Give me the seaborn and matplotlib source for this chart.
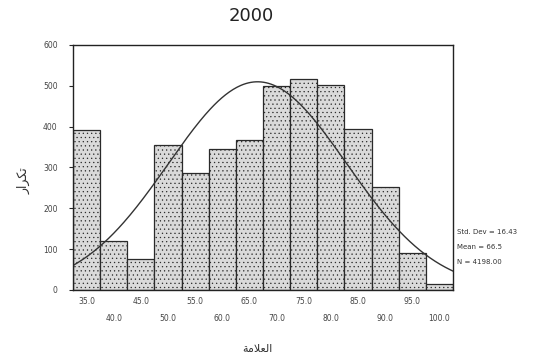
import numpy as np
import matplotlib
matplotlib.use("Agg")
import matplotlib.pyplot as plt
import seaborn as sns

# ---- data ----
bin_centers = [35, 40, 45, 50, 55, 60, 65, 70, 75, 80, 85, 90, 95, 100]
counts = [392, 120, 75, 356, 286, 344, 366, 500, 516, 502, 394, 252, 90, 15]
x_tick_labels = ["35.0", "40.0", "45.0", "50.0", "55.0", "60.0", "65.0",
                 "70.0", "75.0", "80.0", "85.0", "90.0", "95.0", "100.0"]
y_ticks = [0, 100, 200, 300, 400, 500, 600]
std_dev = 16.43
mean_val = 66.5
n_total = 4198.00
bin_width = 5
title = "2000"
# Arabic text in pre-shaped presentation forms, visual order
x_label = "\uFE94\uFEE3\uFEFC\uFECC\uFEDF\uFE8D"   # العلامة
y_label = "\uFEAD\uFE8D\uFEAE\uFEDC\uFE97"         # تكرار

sns.set_style("white")
plt.rcParams['font.family'] = ['DejaVu Sans']
plt.rcParams['hatch.color'] = "#a0a0a0"
plt.rcParams['hatch.linewidth'] = 0.4

fig = plt.figure(figsize=(5.39, 3.62), dpi=100)
ax = fig.add_axes([0.1354, 0.199, 0.705, 0.677])

edges = [c - bin_width / 2 for c in bin_centers] + [bin_centers[-1] + bin_width / 2]
sns.histplot(x=bin_centers, weights=counts, bins=edges, ax=ax,
             color="#dadada", alpha=1.0, edgecolor="#2a2a2a", linewidth=0.9)
for p in ax.patches:
    p.set_hatch("....")

# normal curve from the stated statistics
xs = np.linspace(edges[0], edges[-1], 300)
ys = n_total * bin_width / (std_dev * np.sqrt(2 * np.pi)) * np.exp(-0.5 * ((xs - mean_val) / std_dev) ** 2)
sns.lineplot(x=xs, y=ys, ax=ax, color="#333333", linewidth=1.0)

ax.set_xlim(edges[0], edges[-1])
ax.set_ylim(0, 600)
ax.set_yticks(y_ticks)
ax.set_yticklabels([str(v) for v in y_ticks], fontsize=5.5, color="#444444")
ax.set_xticks(bin_centers)
ax.set_xticklabels([lab if i % 2 == 0 else "\n" + lab for i, lab in enumerate(x_tick_labels)],
                   fontsize=5.5, color="#444444", linespacing=2.2)
ax.tick_params(axis="y", length=3, width=0.8, direction="out", left=True, pad=8)
ax.tick_params(axis="x", length=0, pad=5)
for s in ax.spines.values():
    s.set_color("#222222")
    s.set_linewidth(1.0)
ax.set_xlabel("")
ax.set_ylabel("")

fig.text(0.467, 0.955, title, ha="center", va="center", fontsize=13, color="#222222")
fig.text(0.478, 0.035, x_label, ha="center", va="center", fontsize=8, color="#333333")
fig.text(0.045, 0.50, y_label, ha="center", va="center", fontsize=9, color="#333333", rotation=90)

stats = [f"Std. Dev = {std_dev:.2f}", f"Mean = {mean_val:.1f}", f"N = {n_total:.2f}"]
for i, s in enumerate(stats):
    fig.text(0.848, 0.36 - i * 0.042, s, ha="left", va="center", fontsize=5, color="#333333")

fig.savefig("out.png", dpi=100)
